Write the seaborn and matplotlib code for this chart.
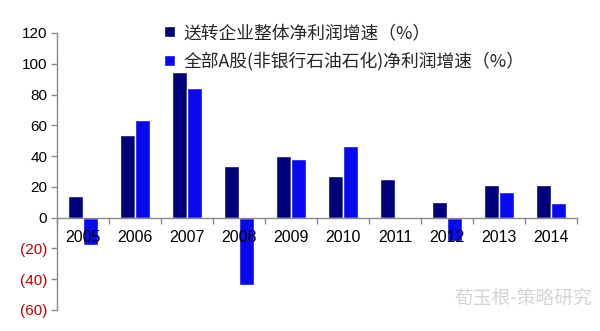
import matplotlib
matplotlib.use("Agg")
import matplotlib.pyplot as plt
import seaborn as sns
import pandas as pd
from matplotlib.ticker import FixedLocator, FixedFormatter

years = ["2005", "2006", "2007", "2008", "2009", "2010", "2011", "2012", "2013", "2014"]
series1_name = "送转企业整体净利润增速（%）"
series2_name = "全部A股(非银行石油石化)净利润增速（%）"
series1 = [14.3, 53.4, 94.5, 33.8, 40.2, 27.2, 25.1, 10.2, 21.2, 21.4]
series2 = [-17.5, 63.5, 84.3, -43.7, 38.0, 46.3, 0.0, -15.4, 16.9, 9.7]
ytick_vals = [-60, -40, -20, 0, 20, 40, 60, 80, 100, 120]
ytick_labels = ["(60)", "(40)", "(20)", "0", "20", "40", "60", "80", "100", "120"]

sns.set_theme(style="white")
plt.rcParams["font.family"] = ["Liberation Sans", "Noto Sans CJK SC", "DejaVu Sans"]

df = pd.DataFrame({
    "year": years * 2,
    "value": series1 + series2,
    "series": [series1_name] * len(years) + [series2_name] * len(years),
})

fig = plt.figure(figsize=(6.0, 3.31), dpi=100)
ax = fig.add_axes([57 / 600, 1 - 310 / 331, (577 - 57) / 600, (310 - 33) / 331])

sns.barplot(data=df, x="year", y="value", hue="series", order=years,
            hue_order=[series1_name, series2_name],
            palette=["#00007A", "#0808F2"], width=0.56, saturation=1,
            ax=ax, legend=True)

ax.set_ylim(-60, 120)
ax.set_xlim(-0.5, len(years) - 0.5)
ax.set_xlabel("")
ax.set_ylabel("")
ax.set_axisbelow(False)

# spines
for s in ["top", "right"]:
    ax.spines[s].set_visible(False)
ax.spines["left"].set_color("#8a8a8a")
ax.spines["left"].set_linewidth(1.0)
ax.spines["bottom"].set_position(("data", 0))
ax.spines["bottom"].set_color("#8a8a8a")
ax.spines["bottom"].set_linewidth(1.0)

# y ticks
ax.yaxis.set_major_locator(FixedLocator(ytick_vals))
ax.yaxis.set_major_formatter(FixedFormatter(ytick_labels))
ax.tick_params(axis="y", which="major", direction="out", length=4, width=1,
               color="#8a8a8a", labelsize=11, pad=3, left=True)
for lab, v in zip(ax.get_yticklabels(), ytick_vals):
    lab.set_color("#C00000" if v < 0 else "black")

# x ticks: marks at boundaries, labels at centers
xs = list(range(len(years)))
ax.xaxis.set_major_locator(FixedLocator([x - 0.5 for x in xs] + [len(years) - 0.5]))
ax.xaxis.set_major_formatter(FixedFormatter([""] * (len(years) + 1)))
ax.xaxis.set_minor_locator(FixedLocator(xs))
ax.xaxis.set_minor_formatter(FixedFormatter(years))
ax.tick_params(axis="x", which="major", direction="out", length=4, width=1,
               color="#8a8a8a", bottom=True)
ax.tick_params(axis="x", which="minor", length=0, labelsize=11.5, pad=9,
               labelcolor="black", bottom=True)
ax.xaxis.set_zorder(5)
ax.spines["bottom"].set_zorder(4)

# legend
handles, labels = ax.get_legend_handles_labels()
ax.get_legend().remove()
leg = fig.legend(handles, labels, loc="upper left",
                 bbox_to_anchor=(148 / 600, 1 - 8 / 331), frameon=False,
                 handlelength=0.6, handleheight=0.6, handletextpad=0.5,
                 labelspacing=0.55,
                 prop={"family": ["Noto Sans CJK SC", "DejaVu Sans"], "size": 12.8})

# watermark
fig.text(592 / 600, 1 - 298 / 331, "荀玉根-策略研究", ha="right", va="center",
         color="#d4d4d4", fontsize=13.5, family=["Noto Sans CJK SC", "DejaVu Sans"])

fig.savefig("out.png", dpi=100)
